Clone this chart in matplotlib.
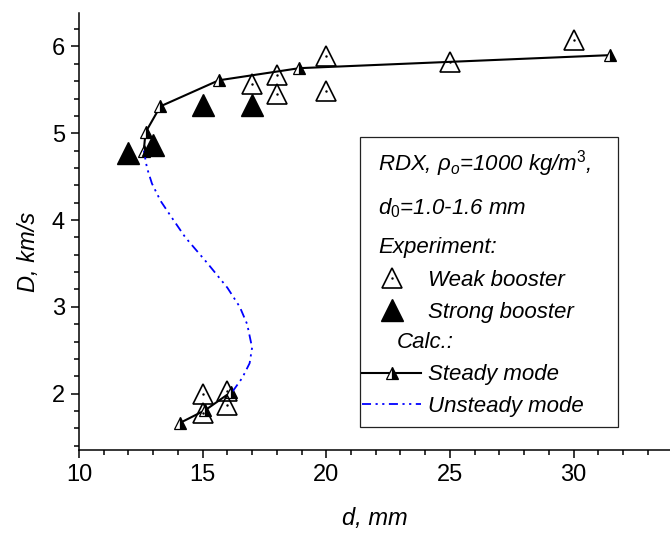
import numpy as np
import matplotlib
matplotlib.use('Agg')
import matplotlib.pyplot as plt
from matplotlib.patches import Rectangle
from matplotlib.ticker import MultipleLocator
from matplotlib.legend_handler import HandlerTuple

plt.rcParams['font.family'] = ['Liberation Sans', 'DejaVu Sans']
plt.rcParams['mathtext.fontset'] = 'custom'
plt.rcParams['mathtext.rm'] = 'Liberation Sans'
plt.rcParams['mathtext.it'] = 'Liberation Sans:italic'

# experiment, weak booster
weak_d = [17.0, 18.0, 18.0, 20.0, 20.0, 25.0, 30.0, 15.0, 15.0, 16.0, 16.0]
weak_D = [5.57, 5.67, 5.45, 5.89, 5.49, 5.82, 6.07, 2.00, 1.78, 2.03, 1.87]

# experiment, strong booster
strong_d = [12.0, 13.0, 15.0, 17.0]
strong_D = [4.77, 4.86, 5.32, 5.32]

# calc, steady mode (upper and lower branch)
steady_hi_d = [12.62, 12.69, 13.29, 15.65, 18.91, 31.46]
steady_hi_D = [4.80, 5.01, 5.31, 5.61, 5.75, 5.90]
steady_lo_d = [14.07, 15.11, 16.16]
steady_lo_D = [1.66, 1.81, 2.02]

# calc, unsteady mode
unsteady_d = [12.62, 12.75, 12.95, 13.3, 13.7, 14.3, 15.2, 16.0, 16.5, 16.8, 17.0, 16.9, 16.6, 16.2]
unsteady_D = [4.80, 4.60, 4.42, 4.22, 4.05, 3.80, 3.50, 3.22, 3.00, 2.80, 2.53, 2.35, 2.18, 2.02]

fig = plt.figure(figsize=(6.7, 5.34), dpi=100)
ax = fig.add_axes([79 / 670, 84 / 534, 591 / 670, 436.5 / 534])

st = dict(color='k', lw=1.5, marker='^', ms=8.5, mew=0.9, mec='k',
          mfc='k', mfcalt='white', fillstyle='right')
steady, = ax.plot(steady_hi_d, steady_hi_D, **st)
ax.plot(steady_lo_d, steady_lo_D, **st)
unsteady, = ax.plot(unsteady_d, unsteady_D, color='#0000ff', lw=1.3,
                    ls=(0, (5, 2.5, 1.2, 2.5, 1.2, 2.5)))
weak, = ax.plot(weak_d, weak_D, ls='none', marker='^', ms=14.5, mfc='none',
                mec='k', mew=1.2)
wdot, = ax.plot(weak_d, weak_D, ls='none', marker='.', ms=1.5, color='k')
strong, = ax.plot(strong_d, strong_D, ls='none', marker='^', ms=15.5,
                  mfc='k', mec='k')

ax.set_xlim(10, 33.9)
ax.set_ylim(1.35, 6.38)
ax.spines['top'].set_visible(False)
ax.spines['right'].set_visible(False)
for s in ('left', 'bottom'):
    ax.spines[s].set_linewidth(1.1)
ax.xaxis.set_major_locator(MultipleLocator(5))
ax.xaxis.set_minor_locator(MultipleLocator(1))
ax.yaxis.set_major_locator(MultipleLocator(1))
ax.yaxis.set_minor_locator(MultipleLocator(0.2))
ax.tick_params(which='major', length=6, width=1.1, labelsize=17, pad=4)
ax.tick_params(which='minor', length=3.6, width=1.1)

ax.set_xlabel('d, mm', fontsize=17, fontstyle='italic')
ax.set_ylabel('D, km/s', fontsize=17, fontstyle='italic')
ax.xaxis.set_label_coords(0.5, -0.13)
ax.yaxis.set_label_coords(-0.066, 0.454)

# legend frame and header lines
ax.add_patch(Rectangle((0.475, 0.053), 0.437, 0.664, transform=ax.transAxes,
                       fill=False, lw=0.9, ec='#222222', zorder=5))
tkw = dict(transform=ax.transAxes, fontsize=16, fontstyle='italic',
           va='center', ha='left')
ax.text(0.506, 0.657, r'RDX, $\rho_o$=1000 kg/m$^3$,', **tkw)
ax.text(0.506, 0.554, r'd$_0$=1.0-1.6 mm', **tkw)
ax.text(0.506, 0.463, 'Experiment:', **tkw)
ax.text(0.538, 0.247, 'Calc.:', **tkw)

blank, = ax.plot([], [], ls='none')
leg = ax.legend([(weak, wdot), strong, blank, steady, unsteady],
                ['Weak booster', 'Strong booster', ' ', 'Steady mode', 'Unsteady mode'],
                handler_map={tuple: HandlerTuple(ndivide=1)},
                loc='upper left', bbox_to_anchor=(0.479, 0.412),
                frameon=False, borderpad=0, borderaxespad=0,
                handlelength=2.65, handletextpad=0.3, labelspacing=0.47,
                numpoints=1, prop=dict(size=16, style='italic'))

fig.savefig('out.png', dpi=100)
